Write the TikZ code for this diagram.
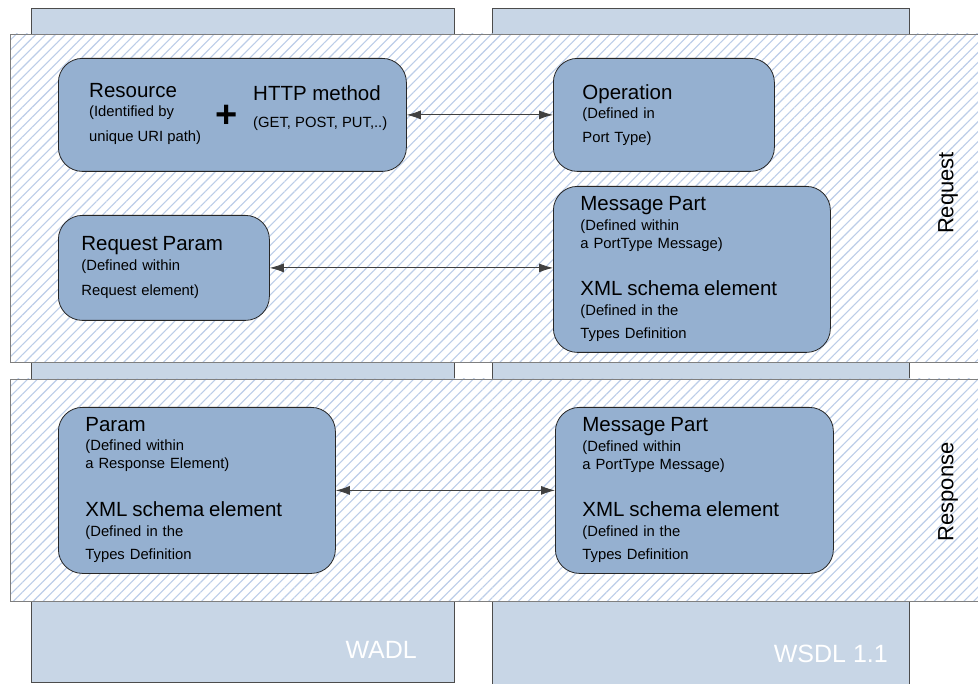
\documentclass[tikz,border=0pt]{standalone}
\usepackage{fontspec}
\setmainfont{Liberation Sans}
\usepackage{xcolor}
\usetikzlibrary{arrows.meta}
\usetikzlibrary{patterns.meta}
\usetikzlibrary{positioning}

\definecolor{colfill}{HTML}{C8D6E6}
\definecolor{boxfill}{HTML}{95B0D0}
\definecolor{hatch}{HTML}{BCCDE8}
\definecolor{bandline}{HTML}{7F7F7F}

\newcommand{\boxtitle}[1]{{\fontsize{20.5}{22}\selectfont #1}}

\tikzset{
    column/.style={fill=colfill, draw=black!70, line width=0.8pt},
    band/.style={preaction={fill=white},
        pattern={Lines[angle=45,distance=7pt,line width=1.1pt]},
        pattern color=hatch, draw=bandline, line width=0.9pt},
    item/.style={draw=black!85, fill=boxfill, rounded corners=24pt,
        line width=0.8pt, anchor=north west, align=left, inner ysep=0pt,
        font=\fontsize{14.8}{18}\selectfont},
    boxtext/.style={anchor=west, align=left, inner sep=0pt,
        font=\fontsize{14.8}{18}\selectfont},
    link/.style={{Latex[length=14pt,width=9pt]}-{Latex[length=14pt,width=9pt]},
        draw=black!75, line width=0.8pt},
    collabel/.style={text=white, anchor=base east, inner sep=0pt,
        font=\fontsize{25}{25}\selectfont},
    rowlabel/.style={rotate=90, font=\fontsize{22}{22}\selectfont}
}

\begin{document}
\begin{tikzpicture}[x=1pt, y=-1pt]
                \useasboundingbox (0,0) rectangle (978,684);
                \clip (0,0) rectangle (978,684);
                % columns
                \path[column] (31,8) rectangle (454,682);
                \path[column] (492,8) rectangle (909,692);
                % bands
                \path[band] (10,34) rectangle (992,362);
                \path[band] (10,379) rectangle (992,601);

                % request
                \node[item, minimum width=348pt, minimum height=113pt] (res) at (58,58) {};
                \node[boxtext] (restxt) at (89,114)
                    {\boxtitle{Resource}\\[1pt](Identified by\\[7pt]unique URI path)};
                \node[font=\fontsize{38}{38}\bfseries\selectfont, inner sep=0pt] (plus) at (227,116) {+};
                \node[boxtext] (httptxt) at (253,108)
                    {\boxtitle{HTTP method}\\[9pt](GET, POST, PUT,..)};
                \node[item, text width=163pt, inner xsep=29pt, minimum height=113pt] (op) at (553,58)
                    {\boxtitle{Operation}\\[1pt](Defined in\\[6pt]Port Type)};
                \node[item, text width=165pt, inner xsep=23pt, minimum height=105pt] (rp) at (58,215)
                    {\boxtitle{Request Param}\\[2pt](Defined within\\[7pt]Request element)};
                \node[item, text width=223pt, inner xsep=27pt, minimum height=166pt] (mpreq) at (553,186)
                    {\boxtitle{Message Part}\\[2pt](Defined within\\a PortType Message)\\[29pt]%
                     \boxtitle{XML schema element}\\[2pt](Defined in the\\[5pt]Types Definition};

                % response
                \node[item, text width=223pt, inner xsep=27pt, minimum height=166pt] (par) at (58,407)
                    {\boxtitle{Param}\\[1pt](Defined within\\a Response Element)\\[30pt]%
                     \boxtitle{XML schema element}\\[2pt](Defined in the\\[5pt]Types Definition};
                \node[item, text width=224pt, inner xsep=27pt, minimum height=166pt] (mpres) at (555,407)
                    {\boxtitle{Message Part}\\[2pt](Defined within\\a PortType Message)\\[29pt]%
                     \boxtitle{XML schema element}\\[2pt](Defined in the\\[5pt]Types Definition};

                \draw[link] (res.east) -- (op.west);
                \draw[link] (rp.east) -- (rp.east -| mpreq.west);
                \draw[link] (par.east) -- (mpres.west);

                \node[rowlabel] (reqlbl) at (948,193) {Request};
                \node[rowlabel] (reslbl) at (948,492) {Response};
                \node[collabel] (wadl) at (417,658) {WADL};
                \node[collabel] (wsdl) at (888,662) {WSDL 1.1};
            \end{tikzpicture}
\end{document}
